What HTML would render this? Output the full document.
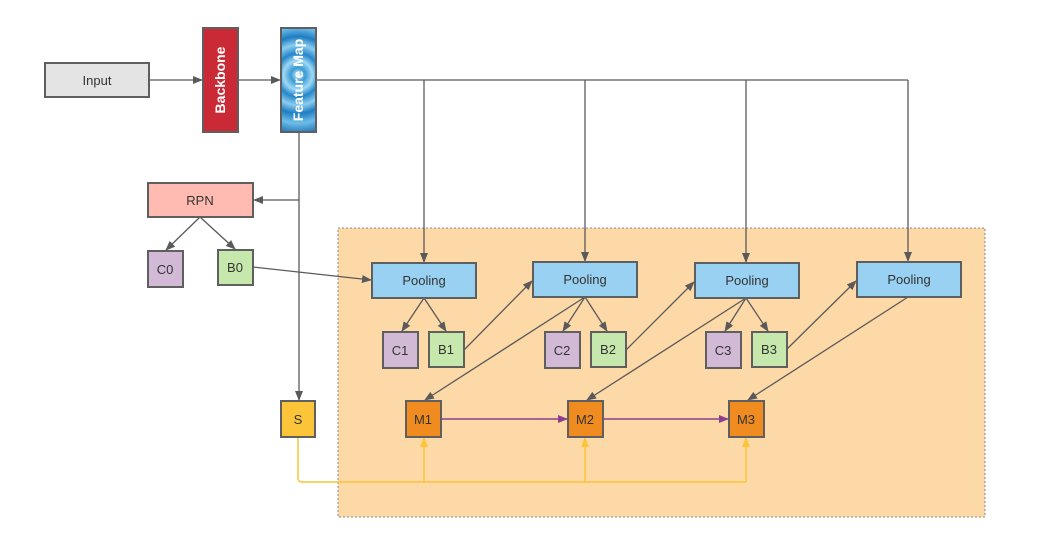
<!DOCTYPE html>
<html><head><meta charset="utf-8"><style>
body{margin:0;background:#fff;}
svg{display:block;font-family:"Liberation Sans",sans-serif;}
</style></head><body>
<svg width="1037" height="545" viewBox="0 0 1037 545" xmlns="http://www.w3.org/2000/svg">
<defs>
<marker id="a" markerWidth="10" markerHeight="8" refX="9" refY="4" orient="auto" markerUnits="userSpaceOnUse"><path d="M0,0 L10,4 L0,8 z" fill="#5a5a5a"/></marker>
<marker id="p" markerWidth="10" markerHeight="8" refX="9" refY="4" orient="auto" markerUnits="userSpaceOnUse"><path d="M0,0 L10,4 L0,8 z" fill="#8e3f8e"/></marker>
<marker id="y" markerWidth="10" markerHeight="8" refX="9" refY="4" orient="auto" markerUnits="userSpaceOnUse"><path d="M0,0 L10,4 L0,8 z" fill="#fcc438"/></marker>
<radialGradient id="fm" gradientUnits="userSpaceOnUse" cx="298" cy="75" r="60">
<stop offset="0" stop-color="#d8f0fb"/><stop offset="0.12" stop-color="#3a9ad6"/><stop offset="0.24" stop-color="#9fd8f3"/><stop offset="0.36" stop-color="#2486c9"/><stop offset="0.5" stop-color="#8ccdef"/><stop offset="0.64" stop-color="#1f7dc2"/><stop offset="0.8" stop-color="#6fbde8"/><stop offset="1" stop-color="#1a6fb5"/>
</radialGradient>
</defs>
<rect x="338" y="228" width="647" height="289" fill="#fdd9a8" stroke="#888" stroke-dasharray="2,2"/>
<g stroke="#5a5a5a" stroke-width="1.3" fill="none">
<line x1="149" y1="80" x2="202" y2="80" marker-end="url(#a)"/>
<line x1="238" y1="80" x2="280" y2="80" marker-end="url(#a)"/>
<polyline points="316,80 908,80"/>
<line x1="424" y1="80" x2="424" y2="262" marker-end="url(#a)"/>
<line x1="585" y1="80" x2="585" y2="261" marker-end="url(#a)"/>
<line x1="746" y1="80" x2="746" y2="262" marker-end="url(#a)"/>
<line x1="908" y1="80" x2="908" y2="261" marker-end="url(#a)"/>
<line x1="299" y1="132" x2="299" y2="400" marker-end="url(#a)"/>
<line x1="299" y1="200" x2="254" y2="200" marker-end="url(#a)"/>
<line x1="200" y1="217" x2="166" y2="250" marker-end="url(#a)"/>
<line x1="200" y1="217" x2="235" y2="249" marker-end="url(#a)"/>
<line x1="253" y1="267" x2="371" y2="280" marker-end="url(#a)"/>
<line x1="424" y1="298" x2="402" y2="331" marker-end="url(#a)"/>
<line x1="424" y1="298" x2="446" y2="331" marker-end="url(#a)"/>
<line x1="585" y1="297" x2="563" y2="331" marker-end="url(#a)"/>
<line x1="585" y1="297" x2="607" y2="331" marker-end="url(#a)"/>
<line x1="746" y1="298" x2="725" y2="331" marker-end="url(#a)"/>
<line x1="746" y1="298" x2="768" y2="331" marker-end="url(#a)"/>
<line x1="464" y1="350" x2="532" y2="281" marker-end="url(#a)"/>
<line x1="626" y1="350" x2="694" y2="282" marker-end="url(#a)"/>
<line x1="787" y1="349" x2="856" y2="281" marker-end="url(#a)"/>
<line x1="585" y1="297" x2="425" y2="400" marker-end="url(#a)"/>
<line x1="746" y1="298" x2="587" y2="400" marker-end="url(#a)"/>
<line x1="908" y1="297" x2="748" y2="400" marker-end="url(#a)"/>
</g>
<g stroke="#8e3f8e" stroke-width="1.5">
<line x1="441" y1="419" x2="567" y2="419" marker-end="url(#p)"/>
<line x1="603" y1="419" x2="728" y2="419" marker-end="url(#p)"/>
</g>
<g stroke="#fcc438" stroke-width="1.5" fill="none">
<path d="M298,437 V478 Q298,482 302,482 H746"/>
<line x1="424" y1="482" x2="424" y2="438" marker-end="url(#y)"/>
<line x1="585" y1="482" x2="585" y2="438" marker-end="url(#y)"/>
<line x1="746" y1="482" x2="746" y2="438" marker-end="url(#y)"/>
</g>
<g stroke="#5f5f5f" stroke-width="2" font-size="13" fill="#333" text-anchor="middle">
<rect x="45" y="63" width="104" height="34" fill="#e4e4e4"/>
<rect x="203" y="28" width="35" height="104" fill="#c92a35"/>
<rect x="281" y="28" width="35" height="104" fill="url(#fm)"/>
<rect x="148" y="183" width="105" height="34" fill="#ffbbb1"/>
<rect x="148" y="251" width="35" height="36" fill="#d2bad6"/>
<rect x="218" y="250" width="35" height="35" fill="#c7e8ac"/>
<rect x="372" y="263" width="104" height="35" fill="#99d1f2"/>
<rect x="533" y="262" width="104" height="35" fill="#99d1f2"/>
<rect x="695" y="263" width="104" height="35" fill="#99d1f2"/>
<rect x="857" y="262" width="104" height="35" fill="#99d1f2"/>
<rect x="383" y="332" width="35" height="36" fill="#d2bad6"/>
<rect x="429" y="332" width="35" height="35" fill="#c7e8ac"/>
<rect x="545" y="332" width="35" height="36" fill="#d2bad6"/>
<rect x="591" y="332" width="35" height="35" fill="#c7e8ac"/>
<rect x="706" y="332" width="35" height="36" fill="#d2bad6"/>
<rect x="752" y="332" width="35" height="35" fill="#c7e8ac"/>
<rect x="281" y="401" width="34" height="36" fill="#fcc438"/>
<rect x="406" y="401" width="35" height="36" fill="#f08b1f"/>
<rect x="568" y="401" width="35" height="36" fill="#f08b1f"/>
<rect x="729" y="401" width="35" height="36" fill="#f08b1f"/>
</g>
<g font-size="13" fill="#333" text-anchor="middle">
<text x="97" y="85">Input</text>
<text x="200" y="205">RPN</text>
<text x="165" y="274">C0</text>
<text x="235" y="272">B0</text>
<text x="424" y="285">Pooling</text>
<text x="585" y="284">Pooling</text>
<text x="747" y="285">Pooling</text>
<text x="909" y="284">Pooling</text>
<text x="400" y="355">C1</text>
<text x="446" y="354">B1</text>
<text x="562" y="355">C2</text>
<text x="608" y="354">B2</text>
<text x="723" y="355">C3</text>
<text x="769" y="354">B3</text>
<text x="298" y="424">S</text>
<text x="423" y="424">M1</text>
<text x="585" y="424">M2</text>
<text x="746" y="424">M3</text>
</g>
<g font-size="14" font-weight="bold" fill="#fff" text-anchor="middle">
<text transform="translate(225,80) rotate(-90)">Backbone</text>
<text transform="translate(303,80) rotate(-90)">Feature Map</text>
</g>
</svg>
</body></html>
